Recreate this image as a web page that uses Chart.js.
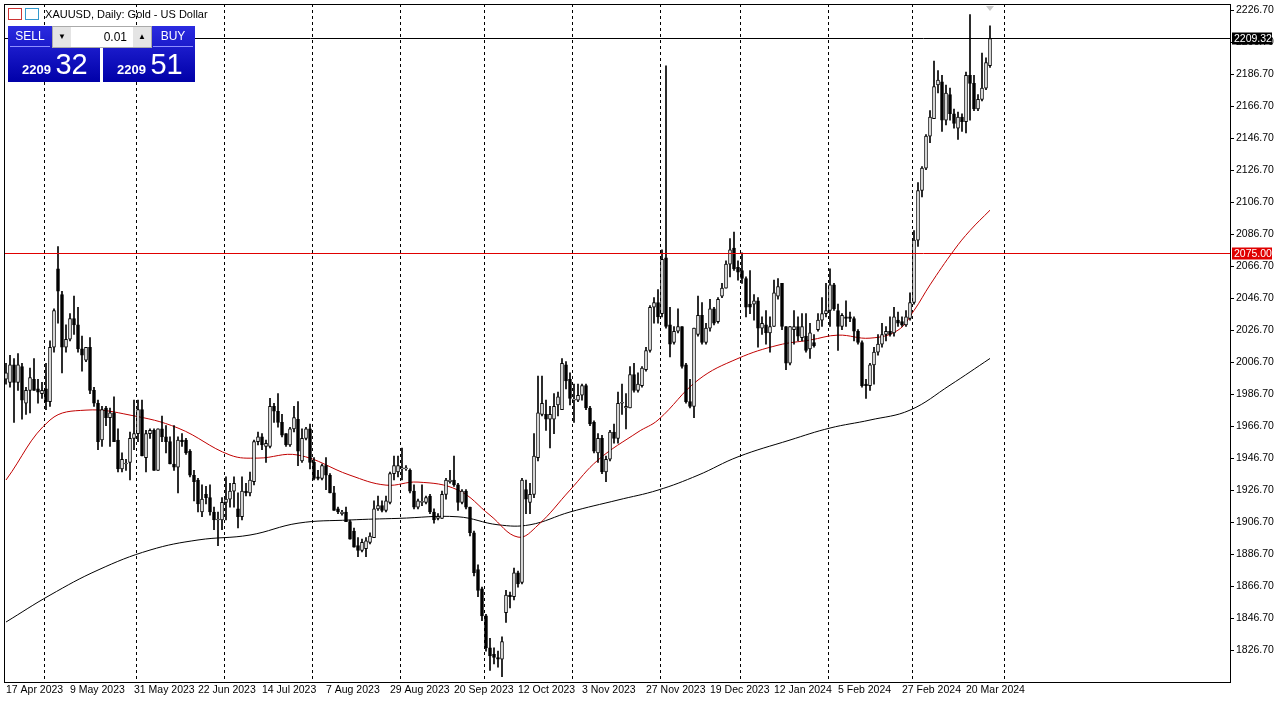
<!DOCTYPE html>
<html>
<head>
<meta charset="utf-8">
<script src="https://cdn.jsdelivr.net/npm/chart.js@4"></script>
<style>
  body { margin: 0; background: #fff; }
  #wrap { position: relative; width: 1285px; height: 705px; }
  #title { position: absolute; left: 8px; top: 8px; font: 11px "Liberation Sans", Arial, sans-serif; color: #000; }
  .ico { display: inline-block; width: 12px; height: 10px; border: 1px solid #c33; margin-right: 3px; vertical-align: -2px; }
  .ico.b { border-color: #39c; }
  .panel { position: absolute; top: 26px; width: 92px; height: 56px; background: linear-gradient(#2b2be0, #0000a8); color: #fff; font-family: "Liberation Sans", Arial, sans-serif; }
  .btn { position: absolute; top: 0; height: 20px; line-height: 20px; font-size: 12px; text-align: center; border-bottom: 1px solid #8f8fff; }
  .px { position: absolute; bottom: 1px; }
  .px small { font-size: 13px; font-weight: bold; }
  .px big { font-size: 29px; }
  #spin { position: absolute; left: 52px; top: 26px; width: 98px; height: 20px; background: #fff; border: 1px solid #aaa; font: 12px "Liberation Sans", Arial, sans-serif; }
  #spin span { position: absolute; top: 0; width: 18px; height: 20px; background: #e4e4e4; text-align: center; line-height: 20px; font-size: 8px; }
</style>
</head>
<body>
<div id="wrap">
  <canvas id="goldChart" width="1285" height="705"></canvas>
  <div id="title"><span class="ico"></span><span class="ico b"></span> XAUUSD, Daily:  Gold - US Dollar</div>
  <div class="panel" style="left:8px">
    <div class="btn" style="left:2px;width:40px">SELL</div>
    <div class="px" style="left:14px"><small>2209</small> <big>32</big></div>
  </div>
  <div class="panel" style="left:103px">
    <div class="btn" style="right:2px;width:40px">BUY</div>
    <div class="px" style="left:14px"><small>2209</small> <big>51</big></div>
  </div>
  <div id="spin"><span style="left:0">&#9660;</span><span style="right:0">&#9650;</span><div style="position:absolute;right:24px;top:3px">0.01</div></div>
</div>
<script>
"use strict";

const dateLabels = ["17 Apr 2023", "9 May 2023", "31 May 2023", "22 Jun 2023", "14 Jul 2023", "7 Aug 2023",
  "29 Aug 2023", "20 Sep 2023", "12 Oct 2023", "3 Nov 2023", "27 Nov 2023", "19 Dec 2023",
  "12 Jan 2024", "5 Feb 2024", "27 Feb 2024", "20 Mar 2024"];
const dateLabelBars = [0, 16, 32, 48, 64, 80, 96, 112, 128, 144, 160, 176, 192, 208, 224, 240];
// month separators (bar positions)
const monthBars = [9.5, 32.5, 54.5, 76.5, 98.5, 119.5, 141.5, 163.5, 183.5, 205.5, 226.5, 249.5];
const priceTicks = [1826.7, 1846.7, 1866.7, 1886.7, 1906.7, 1926.7, 1946.7, 1966.7, 1986.7, 2006.7,
  2026.7, 2046.7, 2066.7, 2086.7, 2106.7, 2126.7, 2146.7, 2166.7, 2186.7, 2206.7, 2226.7];

const opens = [1996,1994,2005,1994,2004,1981,1989,1996,1990,1987,
  1990,1982,2016,2065,2049,2016,2021,2034,2030,2015,
  2008,2016,1989,1981,1958,1978,1972,1975,1958,1940,
  1943,1944,1959,1962,1977,1947,1962,1964,1939,1965,
  1960,1957,1943,1941,1958,1958,1951,1936,1933,1913,
  1924,1922,1913,1908,1908,1919,1921,1926,1915,1910,
  1926,1925,1932,1957,1960,1954,1954,1979,1976,1969,
  1962,1955,1965,1971,1945,1959,1965,1944,1935,1934,
  1942,1936,1925,1915,1912,1913,1907,1901,1892,1889,
  1890,1894,1897,1915,1917,1914,1919,1937,1938,1940,
  1940,1939,1926,1916,1919,1919,1923,1913,1909,1909,
  1924,1932,1933,1930,1919,1926,1916,1900,1877,1865,
  1848,1828,1824,1822,1821,1850,1861,1860,1875,1869,
  1927,1919,1924,1947,1974,1974,1971,1971,1980,1977,
  2005,1996,1983,1983,1986,1992,1978,1969,1950,1959,
  1938,1946,1963,1959,1981,1978,1978,1999,1989,1992,
  2002,2014,2041,2044,2037,2072,2030,2019,2026,2029,
  2005,1982,1979,2024,2036,2019,2028,2040,2032,2048,
  2053,2068,2078,2066,2064,2059,2043,2043,2045,2028,
  2030,2025,2029,2048,2056,2029,2006,2027,2029,2022,
  2023,2015,2019,2027,2033,2037,2039,2055,2039,2029,
  2035,2035,2034,2026,2019,1993,1992,2005,2013,2018,
  2024,2026,2025,2033,2032,2030,2034,2044,2083,2114,
  2128,2148,2159,2180,2182,2158,2174,2162,2153,2160,
  2157,2186,2181,2165,2171,2178,2192];
const highs = [2006,2011,2009,2012,2006,1991,2003,2009,1996,1994,
  2006,2020,2040,2079,2051,2030,2037,2048,2041,2023,
  2016,2022,1991,1983,1979,1979,1978,1985,1965,1950,
  1946,1963,1983,1983,1983,1964,1965,1965,1965,1973,
  1967,1960,1967,1960,1962,1959,1952,1939,1934,1930,
  1929,1930,1916,1913,1922,1935,1931,1935,1925,1935,
  1931,1938,1958,1963,1962,1958,1984,1981,1987,1974,
  1962,1966,1979,1982,1965,1966,1968,1947,1939,1943,
  1947,1937,1929,1916,1914,1916,1908,1903,1897,1896,
  1897,1900,1920,1923,1920,1923,1938,1948,1948,1953,
  1942,1940,1930,1921,1930,1923,1924,1915,1912,1926,
  1934,1939,1948,1931,1927,1927,1916,1901,1880,1866,
  1849,1834,1828,1826,1835,1864,1863,1878,1876,1934,
  1933,1931,1962,1998,1998,1983,1979,1987,1988,2009,
  2007,2000,1993,1993,1993,1993,1979,1970,1962,1961,
  1948,1964,1968,1988,1993,1987,2004,2006,2000,2004,
  2016,2042,2047,2052,2077,2192,2041,2029,2040,2029,
  2006,1996,2028,2048,2044,2031,2046,2041,2047,2056,
  2070,2084,2088,2070,2075,2060,2064,2049,2047,2035,
  2039,2035,2058,2059,2056,2029,2029,2039,2035,2037,
  2037,2031,2024,2037,2047,2056,2065,2056,2043,2037,
  2045,2038,2035,2027,2020,1996,2006,2016,2024,2031,
  2029,2035,2041,2038,2035,2039,2050,2089,2119,2129,
  2149,2164,2195,2189,2186,2180,2178,2165,2163,2162,
  2188,2224,2186,2174,2200,2197,2217];
const lows = [1993,1991,1969,1989,1971,1974,1975,1989,1981,1984,
  1977,1979,2013,2031,2000,2013,2020,2024,2013,2001,
  2007,1987,1979,1952,1954,1967,1954,1957,1938,1938,
  1939,1933,1952,1957,1948,1938,1959,1939,1939,1957,
  1950,1943,1939,1925,1954,1949,1935,1920,1913,1910,
  1918,1911,1902,1892,1902,1908,1916,1916,1903,1908,
  1923,1923,1930,1955,1952,1944,1953,1969,1966,1960,
  1954,1954,1963,1942,1944,1958,1940,1933,1933,1933,
  1927,1925,1914,1912,1911,1907,1896,1891,1885,1888,
  1885,1893,1897,1914,1913,1913,1918,1933,1935,1933,
  1939,1925,1915,1915,1917,1918,1912,1906,1908,1909,
  1921,1931,1929,1914,1918,1915,1898,1873,1860,1845,
  1826,1814,1818,1816,1810,1844,1853,1858,1866,1868,
  1912,1912,1922,1945,1973,1964,1953,1962,1973,1977,
  1990,1980,1969,1982,1983,1977,1967,1950,1944,1937,
  1932,1945,1956,1956,1974,1965,1978,1988,1988,1991,
  2001,2013,2031,2031,2035,2028,2010,2018,2025,2003,
  1981,1978,1972,2023,2018,2018,2026,2030,2031,2047,
  2053,2060,2064,2058,2056,2035,2037,2033,2016,2024,
  2018,2013,2029,2046,2027,2002,2005,2018,2020,2020,
  2013,2009,2016,2026,2029,2035,2029,2039,2014,2027,
  2029,2032,2020,2018,1991,1984,1989,1993,2011,2016,
  2020,2023,2023,2029,2029,2029,2033,2043,2079,2110,
  2127,2144,2159,2175,2151,2155,2158,2153,2146,2151,
  2150,2158,2164,2164,2170,2177,2191];
const closes = [2000,2005,1994,2005,1983,1989,1997,1989,1988,1989,
  1982,2016,2039,2051,2016,2021,2034,2030,2015,2011,
  2016,1989,1981,1957,1977,1972,1975,1957,1940,1946,
  1943,1959,1962,1977,1948,1962,1964,1939,1965,1960,
  1957,1943,1941,1958,1957,1950,1936,1932,1918,1921,
  1922,1913,1908,1908,1919,1921,1926,1931,1910,1926,
  1925,1933,1957,1960,1955,1956,1979,1976,1969,1961,
  1955,1965,1972,1951,1959,1965,1944,1934,1934,1942,
  1936,1925,1914,1913,1913,1907,1896,1891,1889,1894,
  1895,1898,1915,1917,1914,1920,1937,1942,1942,1940,
  1940,1926,1916,1920,1919,1922,1913,1908,1910,1924,
  1933,1933,1930,1919,1926,1916,1900,1875,1864,1848,
  1828,1823,1822,1821,1832,1861,1860,1875,1868,1933,
  1921,1924,1948,1975,1981,1971,1974,1979,1985,2006,
  1995,1984,1983,1986,1992,1978,1968,1951,1959,1938,
  1946,1963,1959,1981,1981,1979,1999,1989,1993,2003,
  2014,2041,2044,2035,2071,2029,2018,2026,2029,2004,
  1982,1979,2028,2036,2019,2028,2040,2031,2046,2053,
  2068,2077,2065,2063,2059,2041,2041,2045,2028,2031,
  2025,2029,2050,2054,2029,2006,2029,2029,2023,2029,
  2014,2025,2017,2033,2037,2039,2055,2040,2029,2036,
  2034,2034,2026,2019,1992,1992,2005,2013,2018,2024,
  2026,2024,2035,2031,2030,2035,2044,2083,2114,2128,
  2148,2160,2179,2183,2158,2175,2162,2156,2160,2157,
  2186,2181,2165,2171,2178,2194,2209];

// moving averages: bar index / value
const ma50Bars = [0, 11, 20, 31, 43, 56, 63, 73, 86, 95, 103, 113, 121, 128, 133, 141, 148, 158, 163, 173, 183, 193, 201, 208, 216, 223, 227, 231, 237, 241, 246];
const ma50Vals = [1933, 1970.5, 1976.7, 1973.6, 1965.5, 1948.6, 1946.7, 1948.6, 1936, 1929.8, 1931.7, 1926.7, 1911, 1897.3, 1904.8, 1926.7, 1945.5, 1963, 1970.5, 1995.5, 2009, 2017.3, 2020.5, 2023.6, 2021.7, 2026.7, 2039, 2055, 2076.7, 2089, 2101.7];
const ma200Bars = [0, 11, 23, 36, 48, 61, 73, 86, 98, 113, 123, 131, 141, 153, 163, 173, 183, 196, 206, 216, 226, 236, 246];
const ma200Vals = [1844.2, 1861, 1876.7, 1889.2, 1895.5, 1898.6, 1906, 1908, 1909, 1910, 1905, 1905, 1913, 1920.5, 1926.7, 1936, 1947.5, 1958, 1965.5, 1970.5, 1976.7, 1992.3, 2009];

const bidLine = 2209.32;
const levelLine = 2075.00;
const frameTop = 4;

const wickData = highs.map((h, i) => ({ x: i, y: [lows[i], h] }));
const bodyData = opens.map((o, i) => ({ x: i, y: [o, closes[i]] }));
const bodyFill = opens.map((o, i) => (closes[i] >= o ? "#ffffff" : "#000000"));

const overlayPlugin = {
  id: "overlay",
  beforeDatasetsDraw(chart) {
    const { ctx, chartArea, scales } = chart;
    ctx.save();
    ctx.strokeStyle = "#000";
    ctx.lineWidth = 1;
    ctx.setLineDash([3, 3]);
    monthBars.forEach((b) => {
      const x = Math.round(scales.x.getPixelForValue(b)) + 0.5;
      ctx.beginPath();
      ctx.moveTo(x, frameTop);
      ctx.lineTo(x, chartArea.bottom);
      ctx.stroke();
    });
    ctx.restore();
  },
  afterDraw(chart) {
    const { ctx, chartArea, scales } = chart;
    ctx.save();
    [[bidLine, "#000000"], [levelLine, "#e00000"]].forEach(([v, col]) => {
      const y = Math.round(scales.y.getPixelForValue(v)) + 0.5;
      ctx.strokeStyle = col;
      ctx.lineWidth = 1;
      ctx.beginPath();
      ctx.moveTo(chartArea.left, y);
      ctx.lineTo(chartArea.right, y);
      ctx.stroke();
      ctx.fillStyle = col;
      ctx.fillRect(chartArea.right + 2, y - 6, 40, 12);
      ctx.fillStyle = "#fff";
      ctx.font = '10.5px "Liberation Sans", Arial, sans-serif';
      ctx.textBaseline = "middle";
      ctx.fillText(v.toFixed(2), chartArea.right + 4, y + 0.5);
    });
    ctx.strokeStyle = "#000";
    ctx.strokeRect(chartArea.left + 0.5, frameTop + 0.5, chartArea.right - chartArea.left, chartArea.bottom - frameTop);
    // grey marker above the last bar
    const lx = scales.x.getPixelForValue(closes.length - 1);
    ctx.fillStyle = "#c8c8c8";
    ctx.beginPath();
    ctx.moveTo(lx - 4, frameTop + 2);
    ctx.lineTo(lx + 4, frameTop + 2);
    ctx.lineTo(lx, frameTop + 7);
    ctx.fill();
    ctx.restore();
  },
};

const chart = new Chart(document.getElementById("goldChart"), {
  data: {
    datasets: [
      {
        type: "line",
        data: ma50Bars.map((b, i) => ({ x: b, y: ma50Vals[i] })),
        borderColor: "#c00000",
        borderWidth: 1,
        pointRadius: 0,
        tension: 0.4,
        order: 3,
      },
      {
        type: "line",
        data: ma200Bars.map((b, i) => ({ x: b, y: ma200Vals[i] })),
        borderColor: "#000000",
        borderWidth: 1,
        pointRadius: 0,
        tension: 0.4,
        order: 3,
      },
      {
        type: "bar",
        data: wickData,
        backgroundColor: "#000",
        barThickness: 1,
        grouped: false,
        order: 2,
      },
      {
        type: "bar",
        data: bodyData,
        backgroundColor: bodyFill,
        borderColor: "#000",
        borderWidth: 1,
        borderSkipped: false,
        barThickness: 3,
        minBarLength: 1,
        grouped: false,
        order: 1,
      },
    ],
  },
  options: {
    responsive: false,
    animation: false,
    layout: { padding: { left: 4, top: 0, right: 0, bottom: 0 } },
    plugins: { legend: { display: false }, tooltip: { enabled: false } },
    scales: {
      x: {
        type: "linear",
        min: -0.5,
        max: 306,
        offset: false,
        grid: { display: false, drawTicks: false },
        border: { display: false },
        afterBuildTicks: (axis) => {
          axis.ticks = dateLabelBars.map((v) => ({ value: v }));
        },
        afterFit: (axis) => { axis.height = 23; },
        ticks: {
          align: "start",
          maxRotation: 0,
          autoSkip: false,
          padding: 2,
          color: "#000",
          font: { family: "Liberation Sans", size: 10.5 },
          callback: (v) => dateLabels[dateLabelBars.indexOf(v)] || "",
        },
      },
      y: {
        position: "right",
        min: 1806.7,
        max: 2227.95,
        grid: { drawOnChartArea: false, drawTicks: true, tickLength: 4, color: "#000" },
        border: { display: false },
        afterBuildTicks: (axis) => {
          axis.ticks = priceTicks.map((v) => ({ value: v }));
        },
        afterFit: (axis) => { axis.width = 55; },
        ticks: {
          padding: 2,
          color: "#000",
          font: { family: "Liberation Sans", size: 10.5 },
          callback: (v) => Number(v).toFixed(2),
        },
      },
    },
  },
  plugins: [overlayPlugin],
});
</script>
</body>
</html>
